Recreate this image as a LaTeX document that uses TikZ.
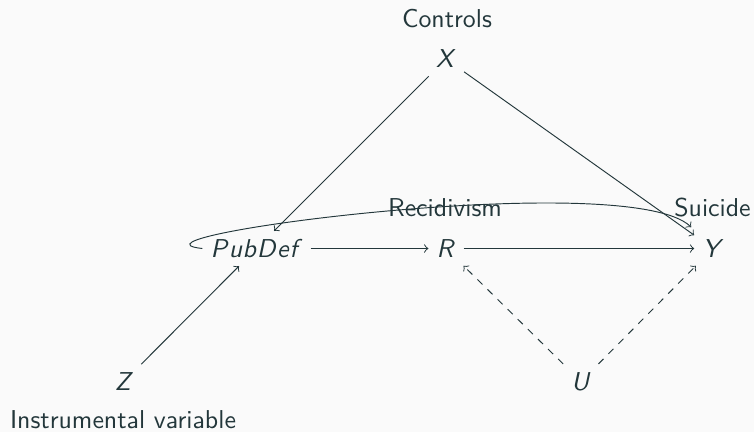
\documentclass[tikz,border=0pt]{standalone}
\usepackage{xcolor}
\definecolor{ink}{HTML}{23373B}
\definecolor{paper}{HTML}{FAFAFA}
% slanted sans variable names with italic corrections after each letter
\newcommand{\vname}[1]{\textit{#1}}
\begin{document}
\begin{tikzpicture}[x=0.4237pt,y=-0.4237pt,
  every node/.style={font=\fontsize{10.95}{13}\selectfont\sffamily, text=ink},
  var/.style={},
  caption/.style={anchor=base},
  link/.style={draw=ink, ->},
  hidden/.style={draw=ink, ->, dashed}]
\fill[paper] (0,0) rectangle (754,432);
\useasboundingbox (0,0) rectangle (754,432);

% variables
\node[var] (X) at (446,59) {\vname{X}};
\node[var] (PubDef) at (256.5,248.5) {\vname{P\/u\/b\/D\/e\/f\/}};
\node[var] (R) at (446,248.5) {\vname{R}};
\node[var] (Y) at (713,248.5) {\vname{Y}};
\node[var] (Z) at (124,381.5) {\vname{Z}};
\node[var] (U) at (581,381.5) {\vname{U}};

% captions
\node[caption] (capX) at (447,27.5) {Controls};
\node[caption] (capR) at (445,216.5) {Recidivism};
\node[caption] (capY) at (712.5,216.5) {Suicide};
\node[caption] (capZ) at (123,428) {Instrumental variable};

% causal paths
\draw[link] (X) -- (PubDef);
\draw[link] (X) -- (Y);
\draw[link] (PubDef) -- (R);
\draw[link] (R) -- (Y);
\draw[link] (Z) -- (PubDef);
\draw[hidden] (U) -- (R);
\draw[hidden] (U) -- (Y);
\draw[link] (PubDef.west) .. controls +(-100,-11) and +(-62,-60) .. ([shift={(-3,-4)}]Y.north west);
\end{tikzpicture}
\end{document}
